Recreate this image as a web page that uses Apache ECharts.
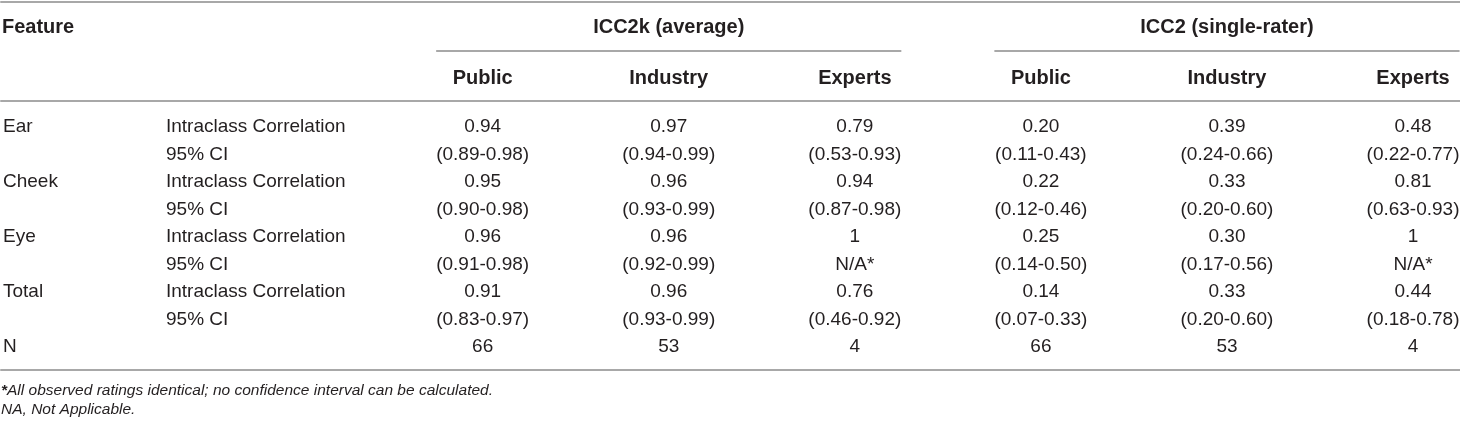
<!DOCTYPE html>
<html>
<head>
<meta charset="utf-8">
<script src="https://cdn.jsdelivr.net/npm/echarts@6/dist/echarts.min.js"></script>
<style>
html, body { margin: 0; padding: 0; background: #fff; }
#iccTable { width: 1460px; height: 426px; }
</style>
</head>
<body>
<div id="iccTable"></div>
<script>
var features = ['Ear', 'Cheek', 'Eye', 'Total'];
var statLabels = ['Intraclass Correlation', '95% CI'];
var groups = ['ICC2k (average)', 'ICC2 (single-rater)'];
var raters = ['Public', 'Industry', 'Experts'];

// one row per feature, columns Public / Industry / Experts
var icc2kValues = [[0.94, 0.97, 0.79], [0.95, 0.96, 0.94], [0.96, 0.96, 1], [0.91, 0.96, 0.76]];
var icc2kLow = [[0.89, 0.94, 0.53], [0.90, 0.93, 0.87], [0.91, 0.92, null], [0.83, 0.93, 0.46]];
var icc2kHigh = [[0.98, 0.99, 0.93], [0.98, 0.99, 0.98], [0.98, 0.99, null], [0.97, 0.99, 0.92]];

var icc2Values = [[0.20, 0.39, 0.48], [0.22, 0.33, 0.81], [0.25, 0.30, 1], [0.14, 0.33, 0.44]];
var icc2Low = [[0.11, 0.24, 0.22], [0.12, 0.20, 0.63], [0.14, 0.17, null], [0.07, 0.20, 0.18]];
var icc2High = [[0.43, 0.66, 0.77], [0.46, 0.60, 0.93], [0.50, 0.56, null], [0.33, 0.60, 0.78]];

var sampleSizes = [66, 53, 4];
var footnotes = ['*All observed ratings identical; no confidence interval can be calculated.', 'NA, Not Applicable.'];

var chart = echarts.init(document.getElementById('iccTable'));
new ResizeObserver(() => chart.resize()).observe(document.getElementById('iccTable'));

var ink = '#231f20';
var rule = '#a8a8a8';
var font = "'Liberation Sans', Arial, Helvetica, sans-serif";
var fontSize = 19;
var headSize = 20;
var noteSize = 15.5;

function fmt(v) { return v === 1 ? '1' : v.toFixed(2); }
function ci(lo, hi) { return lo == null ? 'N/A*' : '(' + fmt(lo) + '-' + fmt(hi) + ')'; }

// build the cells: row 2f = ICC, row 2f+1 = CI, last row = N
var valueSets = [[icc2kValues, icc2kLow, icc2kHigh], [icc2Values, icc2Low, icc2High]];
var cells = [];
var rowFeature = [];
var rowStat = [];
features.forEach(function (name, f) {
  rowFeature.push(name, '');
  rowStat.push(statLabels[0], statLabels[1]);
  valueSets.forEach(function (set, g) {
    raters.forEach(function (r, i) {
      cells.push({ col: g * 3 + i, row: f * 2, text: fmt(set[0][f][i]) });
      cells.push({ col: g * 3 + i, row: f * 2 + 1, text: ci(set[1][f][i], set[2][f][i]) });
    });
  });
});
rowFeature.push('N');
rowStat.push('');
groups.forEach(function (g, gi) {
  sampleSizes.forEach(function (n, i) {
    cells.push({ col: gi * 3 + i, row: features.length * 2, text: String(n) });
  });
});

var colCount = groups.length * raters.length;
var rowCount = rowFeature.length;
var colIdx = Array.from({ length: colCount }, (_, i) => i);
var rowIdx = Array.from({ length: rowCount }, (_, i) => i);

// layout (pixels)
var W = 1460;
var firstColX = 482, colStep = 186.2;
var gridTop = 100.5, gridBottomY = 370;
var firstRowY = 127, rowStep = 27.5;
var groupOffset = 49.5;

var xMin = -firstColX / colStep;
var xMax = (W - firstColX) / colStep;
var yMin = -(firstRowY - gridTop) / rowStep;
var yMax = (gridBottomY - firstRowY) / rowStep;

function xAxisBase(extra) {
  return Object.assign({
    type: 'value', min: xMin, max: xMax,
    axisLine: { show: false, onZero: false },
    axisTick: { show: false }, splitLine: { show: false },
    axisLabel: { show: false }
  }, extra);
}

var option = {
  animation: false,
  grid: { left: 0, right: 0, top: gridTop, bottom: 426 - gridBottomY },
  xAxis: [
    xAxisBase({
      position: 'top',
      axisLine: { show: true, onZero: false, lineStyle: { color: rule, width: 2 } },
      axisLabel: {
        show: true, customValues: colIdx, margin: 22, verticalAlign: 'middle',
        formatter: function (v) { return raters[Math.round(v) % raters.length]; },
        color: ink, fontFamily: font, fontSize: headSize, fontWeight: 'bold'
      }
    }),
    xAxisBase({
      position: 'top', offset: groupOffset,
      axisLabel: {
        show: true, customValues: groups.map((g, i) => i * 3 + 1), margin: 24, verticalAlign: 'middle',
        formatter: function (v) { return groups[Math.round((v - 1) / 3)]; },
        color: ink, fontFamily: font, fontSize: headSize, fontWeight: 'bold'
      }
    }),
    xAxisBase({
      position: 'top', offset: gridTop - 1.5,
      axisLine: { show: true, onZero: false, lineStyle: { color: rule, width: 2 } }
    }),
    xAxisBase({
      position: 'bottom',
      axisLine: { show: true, onZero: false, lineStyle: { color: rule, width: 2 } }
    })
  ],
  yAxis: [rowFeature, rowStat].map(function (labels, k) {
    return {
      type: 'value', inverse: true, position: 'left', min: yMin, max: yMax,
      axisLine: { show: false, onZero: false }, axisTick: { show: false }, splitLine: { show: false },
      axisLabel: {
        customValues: rowIdx, align: 'left', margin: k === 0 ? -2 : -165,
        formatter: function (v) { return labels[Math.round(v)]; },
        color: ink, fontFamily: font, fontSize: fontSize
      }
    };
  }),
  series: [{
    type: 'custom',
    silent: true,
    xAxisIndex: 0, yAxisIndex: 0,
    data: cells.map(c => [c.col, c.row]),
    renderItem: function (params, api) {
      var p = api.coord([api.value(0), api.value(1)]);
      return {
        type: 'text', x: p[0], y: p[1],
        style: {
          text: cells[params.dataIndex].text, align: 'center', verticalAlign: 'middle',
          fill: ink, fontFamily: font, fontSize: fontSize
        }
      };
    }
  }]
};

chart.setOption(option);

// group underlines and the free text
var groupLineY = gridTop - groupOffset;
var graphics = groups.map(function (g, i) {
  var a = chart.convertToPixel({ xAxisIndex: 0 }, i * 3 - 0.25);
  var b = Math.min(chart.convertToPixel({ xAxisIndex: 0 }, i * 3 + 2.25), chart.getWidth());
  return { type: 'line', silent: true, shape: { x1: a, y1: groupLineY, x2: b, y2: groupLineY }, style: { stroke: rule, lineWidth: 2 } };
});
graphics.push({
  type: 'text', x: 2, y: 27,
  style: { text: 'Feature', verticalAlign: 'middle', fill: ink, fontFamily: font, fontSize: headSize, fontWeight: 'bold' }
});
graphics.push({
  type: 'text', x: 1, y: 391,
  style: {
    text: '{star|*}{it|' + footnotes[0].slice(1) + '}', verticalAlign: 'middle',
    rich: {
      star: { fill: ink, fontFamily: font, fontSize: noteSize, fontWeight: 'bold', fontStyle: 'italic' },
      it: { fill: ink, fontFamily: font, fontSize: noteSize, fontStyle: 'italic' }
    }
  }
});
graphics.push({
  type: 'text', x: 1, y: 410,
  style: { text: footnotes[1], verticalAlign: 'middle', fill: ink, fontFamily: font, fontSize: noteSize, fontStyle: 'italic' }
});
chart.setOption({ graphic: graphics });
</script>
</body>
</html>
